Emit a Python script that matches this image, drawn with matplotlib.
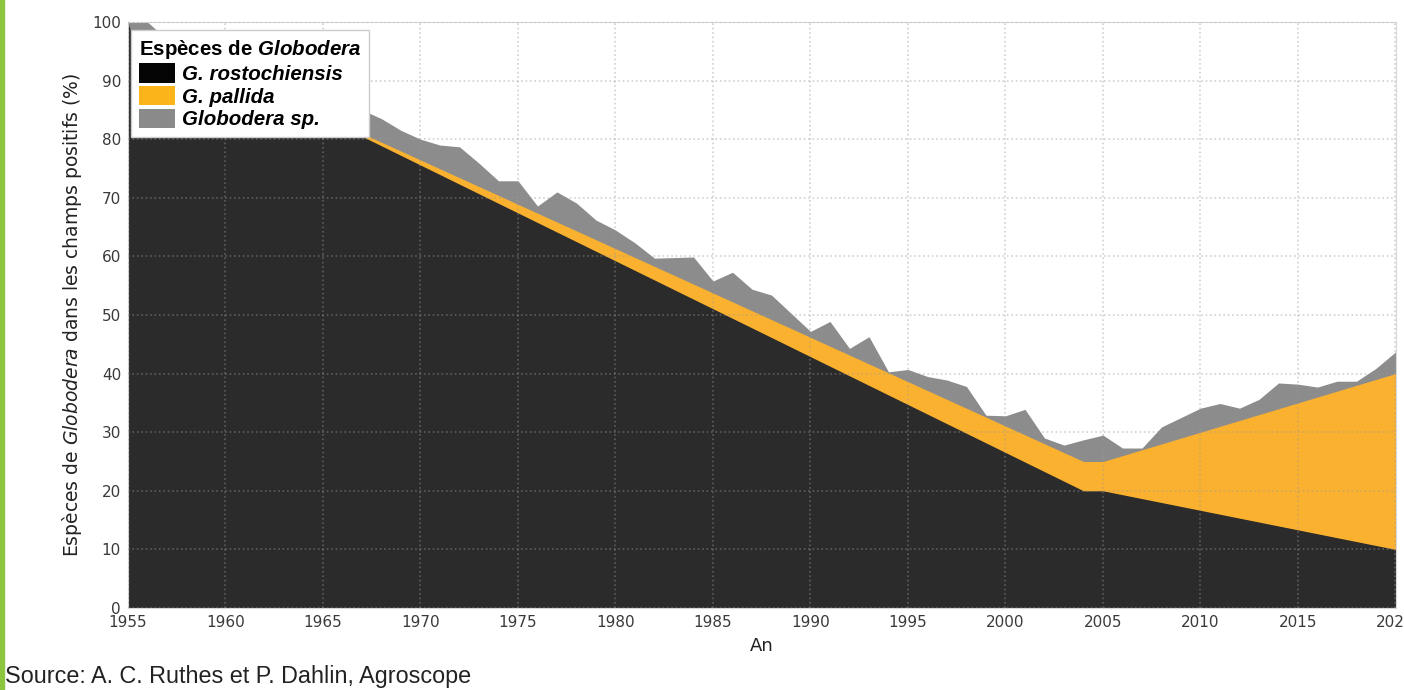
import matplotlib
matplotlib.use("Agg")
import matplotlib.pyplot as plt
from matplotlib.patches import Patch, Rectangle

# --- data (cumulative tops of the stacked areas, %) ---
years_total = list(range(1955, 2021))
top_total = [
    100, 100, 97, 95, 93, 92, 91, 90, 89, 88, 87, 86, 85, 83.5, 81.5,
    80, 79, 78.7, 75.9, 72.9, 72.9, 68.6, 71.0, 69.1, 66.2, 64.5, 62.3,
    59.7, 59.8, 59.9, 55.8, 57.3, 54.4, 53.4, 50.3, 47.2, 48.9, 44.3,
    46.3, 40.3, 40.7, 39.5, 38.9, 37.8, 32.9, 32.8, 33.9, 29.0, 27.8,
    28.7, 29.5, 27.3, 27.3, 30.9, 32.5, 34.1, 34.9, 34.1, 35.6, 38.4,
    38.2, 37.7, 38.7, 38.7, 40.9, 43.7,
]

# G. pallida top (straight segments in the chart)
years_pallida = [1967, 2004, 2005, 2020]
top_pallida = [81, 25, 25, 40]

# G. rostochiensis (straight segments in the chart)
years_rosto = [1955, 1956, 1957, 1967, 2004, 2005, 2020]
top_rosto = [100, 88, 82, 80.5, 20, 20, 10]

labels = ["G. rostochiensis", "G. pallida", "Globodera sp."]
colors_fill = ["#2b2b2b", "#fab12f", "#8c8c8c"]
colors_legend = ["#050505", "#fbb41a", "#8a8a8a"]
xticks = list(range(1955, 2021, 5))
yticks = list(range(0, 101, 10))

plt.rcParams["mathtext.fontset"] = "custom"
plt.rcParams["mathtext.it"] = "DejaVu Sans:italic"
plt.rcParams["mathtext.rm"] = "DejaVu Sans"
plt.rcParams["mathtext.bfit"] = "Liberation Sans:italic:bold"

fig = plt.figure(figsize=(14.04, 6.9), dpi=100)
ax = fig.add_axes([128 / 1404, 82 / 690, 1267.5 / 1404, 586 / 690])

ax.fill_between(years_total, 0, top_total, color=colors_fill[2], linewidth=0)
ax.fill_between(years_pallida, 0, top_pallida, color=colors_fill[1], linewidth=0)
ax.fill_between(years_rosto, 0, top_rosto, color=colors_fill[0], linewidth=0)

ax.set_xlim(1955, 2020)
ax.set_ylim(0, 100)
ax.set_xticks(xticks)
ax.set_yticks(yticks)
ax.tick_params(length=0, labelsize=11, labelcolor="#3a3a3a")
ax.tick_params(axis="x", pad=5)
ax.tick_params(axis="y", pad=5)

ax.set_axisbelow(False)
ax.grid(True, linestyle=":", linewidth=1.2, color="#999999", alpha=0.45)
for s in ax.spines.values():
    s.set_color("#d8d8d8")
    s.set_linewidth(0.8)

ax.set_xlabel("An", fontsize=13, color="#222222", labelpad=5)
ax.set_ylabel("Espèces de $\\mathit{Globodera}$ dans les champs positifs (%)",
              fontsize=13.5, color="#222222", labelpad=6)

handles = [Patch(facecolor=c, edgecolor="none") for c in colors_legend]
leg = ax.legend(
    handles, labels,
    title="Espèces de $\\mathbfit{Globodera}$",
    loc="upper left", bbox_to_anchor=(0.002, 0.986), borderaxespad=0,
    prop={"family": "Liberation Sans", "weight": "bold", "style": "italic", "size": 14.8},
    title_fontproperties={"family": "Liberation Sans", "weight": "bold", "size": 14.8},
    alignment="left", fancybox=False, framealpha=1, edgecolor="#cccccc",
    handlelength=1.75, handleheight=1.05, handletextpad=0.35, labelspacing=0.1,
    borderpad=0.4,
)
leg.get_frame().set_linewidth(1.0)

# green edge bar and source line
fig.patches.append(Rectangle((0, 0), 4 / 1404, 1, transform=fig.transFigure,
                             color="#8cc63f", zorder=0))
fig.text(5 / 1404, 14 / 690, "Source: A. C. Ruthes et P. Dahlin, Agroscope",
         family="Liberation Sans", fontsize=16.8, color="#222222", va="center")

fig.savefig("out.png", dpi=100)
